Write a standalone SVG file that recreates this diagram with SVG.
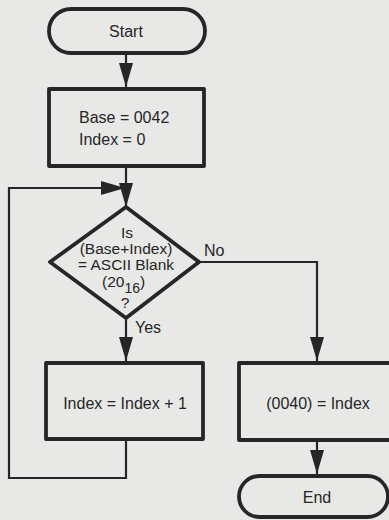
<svg xmlns="http://www.w3.org/2000/svg" width="389" height="520" viewBox="0 0 389 520">
<style>
.shape{fill:none;stroke:#262626;stroke-width:3.8;stroke-linejoin:round}
.line{fill:none;stroke:#262626;stroke-width:2.2}
text{font-family:"Liberation Sans",Arial,sans-serif;font-size:16px;fill:#262626}
.d{font-size:15.5px}
.c{text-anchor:middle}
</style>
<defs>
<marker id="ah" markerWidth="24" markerHeight="14" refX="24" refY="7" viewBox="0 0 24 14" markerUnits="userSpaceOnUse" orient="auto">
<path d="M0,0 L24,7 L0,14 Z" fill="#262626"/>
</marker>
</defs>
<rect width="389" height="520" fill="#e8e8e6"/>
<g id="connectors">
<path class="line" d="M126,53 V87" marker-end="url(#ah)"/>
<path class="line" d="M126,166 V207" marker-end="url(#ah)"/>
<path class="line" d="M126,439 V478 H9 V188 H125" marker-end="url(#ah)"/>
<path class="line" d="M126,318 V361" marker-end="url(#ah)"/>
<path class="line" d="M199,262 H317 V361" marker-end="url(#ah)"/>
<path class="line" d="M317,440 V474" marker-end="url(#ah)"/>
</g>
<g id="start">
<rect class="shape" x="49" y="9" width="156" height="44" rx="22"/>
<text class="c" x="126" y="37">Start</text>
</g>
<g id="init">
<rect class="shape" x="49" y="89" width="155" height="77"/>
<text x="79" y="123">Base = 0042</text>
<text x="79" y="145">Index = 0</text>
</g>
<g id="decision">
<polygon class="shape" points="126,207 199,262 126,318 50,262"/>
<text class="c d" x="127" y="238">Is</text>
<text class="c d" x="126" y="254">(Base+Index)</text>
<text class="c d" x="126" y="270">= ASCII Blank</text>
<text class="d" x="102" y="287">(20<tspan font-size="14" dy="6">16</tspan><tspan dy="-6">)</tspan></text>
<text class="c d" x="125" y="308">?</text>
<text x="204" y="256">No</text>
<text x="135" y="333">Yes</text>
</g>
<g id="increment">
<rect class="shape" x="46" y="363" width="157" height="76"/>
<text class="c" x="125" y="409">Index = Index + 1</text>
</g>
<g id="store">
<rect class="shape" x="239" y="363" width="160" height="77"/>
<text class="c" x="318" y="409">(0040) = Index</text>
</g>
<g id="end">
<rect class="shape" x="239" y="476" width="149" height="41" rx="20.5"/>
<text class="c" x="317" y="503">End</text>
</g>
</svg>
